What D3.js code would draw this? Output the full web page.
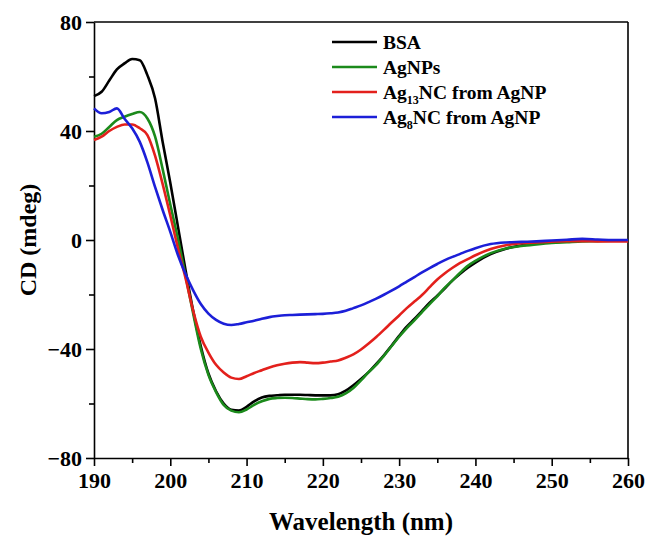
<meta charset="utf-8" />
<script src="https://d3js.org/d3.v7.min.js"></script>
<style>
  body { margin: 0; background: #fff; }
  svg text { font-family: "Liberation Serif", "Times New Roman", serif; font-weight: bold; fill: #000; }
  .line { fill: none; stroke-width: 2.6; stroke-linejoin: round; }
</style>
<svg width="650" height="540"></svg>
<script>
  // wavelength (nm)
  var wavelength = [
    190, 191, 192, 193, 194, 195, 196, 197, 198, 199,
    200, 201, 202, 203, 204, 205, 206, 207, 208, 209,
    210, 211, 212, 213, 214, 215, 216, 217, 218, 219,
    220, 221, 222, 223, 224, 225, 226, 227, 228, 229,
    230, 231, 232, 233, 234, 235, 236, 237, 238, 239,
    240, 242, 244, 246, 248, 250, 252, 254, 256, 258, 260
  ];
  var bsa = [
    52.8, 54.4, 58.5, 62.6, 64.8, 66.4, 66.0, 60.5, 52, 36,
    21, 5, -11, -26, -39, -49, -55.5, -60, -62.3, -62.6,
    -61.2, -59.2, -57.8, -57.2, -57, -56.8, -56.8, -56.8, -56.9, -57,
    -57, -57, -56.6, -55.3, -53.3, -51, -48.5, -45.5, -42.3, -38.8,
    -35.2, -31.8, -29, -26, -23, -20.4, -17.7, -14.8, -12.4, -10.2,
    -8.3, -5.2, -3.2, -2, -1.3, -0.8, -0.5, -0.3, -0.3, -0.3, -0.3
  ];
  var agnps = [
    37.9, 39, 41.5, 44, 45.2, 46.2, 47, 44.6, 38, 26,
    13, 0.5, -13, -27, -40, -49.5, -55.8, -60.5, -62.6, -63.2,
    -62.2, -60.5, -59.2, -58.3, -58, -57.9, -58, -58.2, -58.4, -58.5,
    -58.3, -58, -57.5, -56.3, -54.3, -51.5, -48.5, -45.8, -42.5, -39,
    -35.5, -32.3, -29.5, -26.5, -23.5, -20.7, -17.5, -14.8, -12, -9.5,
    -7.7, -4.8, -3.1, -2.2, -1.6, -1.1, -0.8, -0.5, -0.4, -0.3, -0.3
  ];
  var ag13 = [
    36.7, 37.9, 40, 41.5, 42.4, 42.4, 41, 38.5, 31, 20.5,
    9, -3, -14, -26, -35.5, -41.3, -45.8, -48.6, -50.5, -51,
    -50, -48.8, -47.8, -46.8, -46, -45.4, -45, -44.8, -45, -45.2,
    -45, -44.6, -44.2, -43.2, -42, -40.2, -38, -35.6, -33, -30.3,
    -27.7, -25, -22.6, -20.2, -17.3, -14.5, -12.2, -10.2, -8.4, -7,
    -5.6, -3.3, -1.9, -1.2, -0.9, -0.6, -0.4, -0.4, -0.5, -0.5, -0.5
  ];
  var ag8 = [
    48.3, 46.5, 47, 48.3, 44.5, 41, 36, 28.5, 19.5, 11,
    3, -5.5, -12.5, -18.5, -23.5, -27, -29.3, -30.7, -31.2, -30.8,
    -30.2, -29.6, -28.9, -28.3, -27.9, -27.6, -27.5, -27.4, -27.3, -27.2,
    -27.1, -26.9, -26.6, -26, -25, -24, -22.8, -21.5, -20.1, -18.6,
    -17, -15.3, -13.6, -11.9, -10.3, -8.8, -7.4, -6.2, -5.1, -4,
    -3, -1.5, -0.9, -0.7, -0.5, -0.2, 0.1, 0.4, 0.2, 0, 0
  ];
  var xTicks = [190, 200, 210, 220, 230, 240, 250, 260];
  var yTicks = [-80, -40, 0, 40, 80];

  var series = [
    { name: "BSA", values: bsa, color: "#000000" },
    { name: "AgNPs", values: agnps, color: "#1b8a1b" },
    { name: "Ag13", values: ag13, color: "#e3201c" },
    { name: "Ag8", values: ag8, color: "#1c1fd8" }
  ];

  var svg = d3.select("svg"),
    margin = { top: 22, right: 22, bottom: 82, left: 94 },
    width = +svg.attr("width") - margin.left - margin.right,
    height = +svg.attr("height") - margin.top - margin.bottom;

  var x = d3.scaleLinear().domain([190, 260]).range([0, width]),
    y = d3.scaleLinear().domain([-80, 80]).range([height, 0]);

  var g = svg.append("g")
    .attr("transform", "translate(" + margin.left + "," + margin.top + ")");

  // minor ticks
  g.append("g")
    .attr("transform", "translate(0," + height + ")")
    .call(d3.axisBottom(x).tickValues(d3.range(195, 260, 10)).tickSize(5).tickFormat(""))
    .call(function (s) { s.select(".domain").remove(); });
  g.append("g")
    .call(d3.axisLeft(y).tickValues([-60, -20, 20, 60]).tickSize(5).tickFormat(""))
    .call(function (s) { s.select(".domain").remove(); });

  // major axes
  var xAxis = g.append("g")
    .attr("transform", "translate(0," + height + ")")
    .call(d3.axisBottom(x).tickValues(xTicks).tickSize(8).tickSizeOuter(0).tickPadding(6));
  var yAxis = g.append("g")
    .call(d3.axisLeft(y).tickValues(yTicks).tickSize(8).tickSizeOuter(0).tickPadding(4));

  g.selectAll(".tick line, .domain").attr("stroke", "#000").attr("stroke-width", 1.6);
  xAxis.attr("font-family", "Liberation Serif").attr("font-size", 22);
  yAxis.attr("font-family", "Liberation Serif").attr("font-size", 22);

  // top / right frame
  g.append("line").attr("x1", 0).attr("x2", width).attr("y1", 0).attr("y2", 0)
    .attr("stroke", "#000").attr("stroke-width", 1.6);
  g.append("line").attr("x1", width).attr("x2", width).attr("y1", 0).attr("y2", height)
    .attr("stroke", "#000").attr("stroke-width", 1.6);

  var line = d3.line()
    .x(function (d, i) { return x(wavelength[i]); })
    .y(function (d) { return y(d); })
    .curve(d3.curveMonotoneX);

  g.selectAll(".line")
    .data(series)
    .enter()
    .append("path")
    .attr("class", "line")
    .attr("stroke", function (d) { return d.color; })
    .attr("d", function (d) { return line(d.values); });

  // legend
  var legend = g.append("g").attr("transform", "translate(238,20)");
  series.forEach(function (s, i) {
    var row = legend.append("g").attr("transform", "translate(0," + i * 25 + ")");
    row.append("line").attr("x1", 0).attr("x2", 45).attr("y1", 0).attr("y2", 0)
      .attr("stroke", s.color).attr("stroke-width", 2.6);
    var t = row.append("text").attr("x", 51).attr("dy", "0.35em").attr("font-size", 19.5);
    if (s.name === "Ag13" || s.name === "Ag8") {
      t.append("tspan").text("Ag");
      t.append("tspan").attr("dy", 5).attr("font-size", 12).text(s.name.slice(2));
      t.append("tspan").attr("dy", -5).text("NC from AgNP");
    } else {
      t.text(s.name);
    }
  });

  // axis titles
  svg.append("text")
    .attr("x", margin.left + width / 2)
    .attr("y", 530)
    .attr("text-anchor", "middle")
    .attr("font-size", 25)
    .text("Wavelength (nm)");
  svg.append("text")
    .attr("transform", "translate(36," + (margin.top + height / 2) + ") rotate(-90)")
    .attr("text-anchor", "middle")
    .attr("font-size", 24)
    .text("CD (mdeg)");
</script>
